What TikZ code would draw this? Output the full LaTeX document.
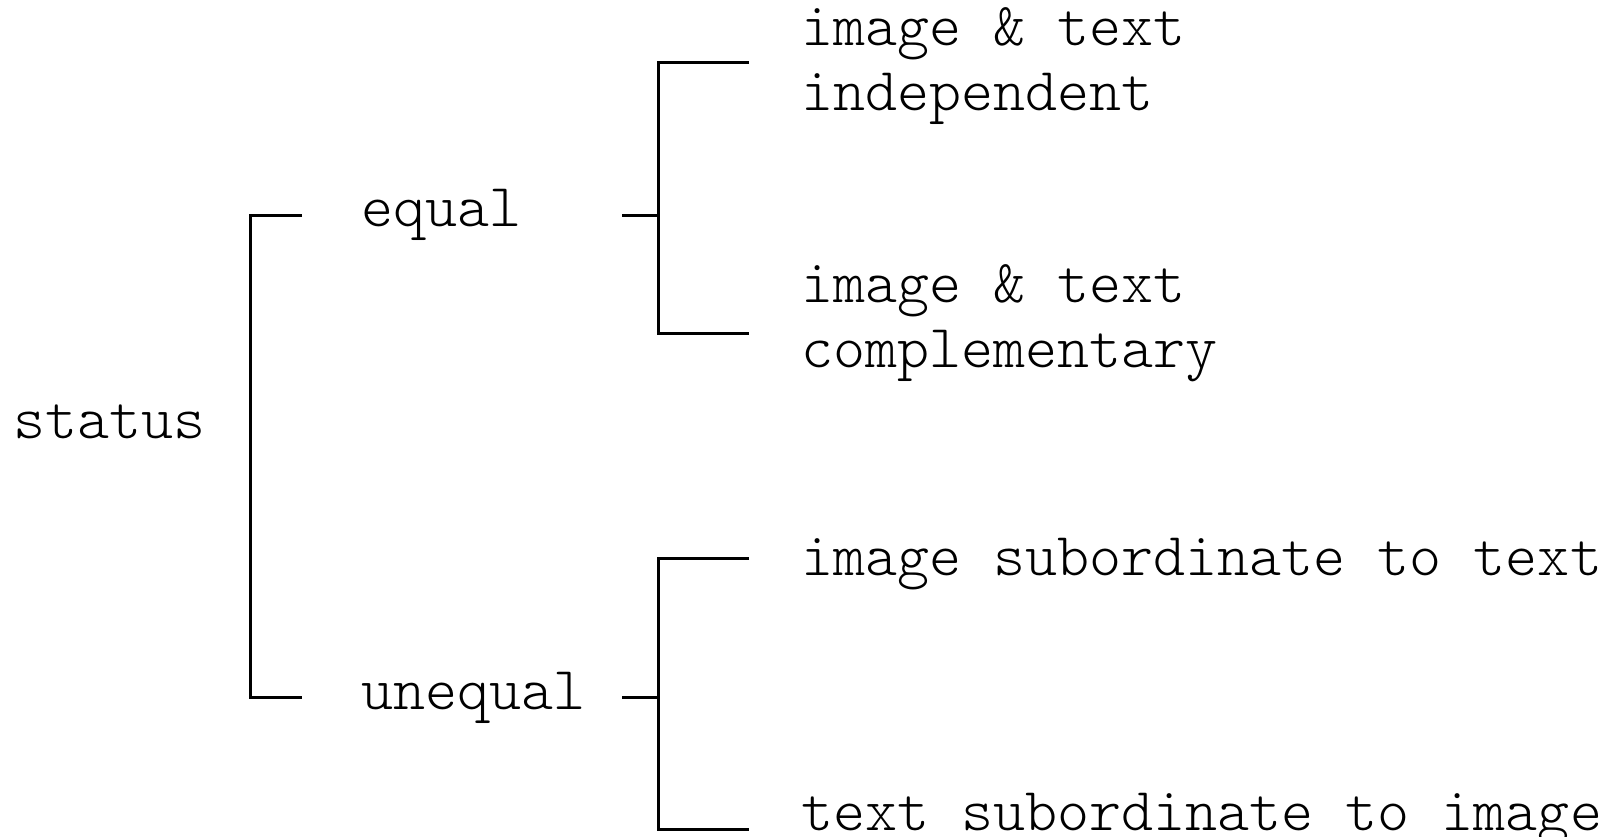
\documentclass[tikz,border=0pt]{standalone}
\usepackage{fontspec}
\setmonofont{Latin Modern Mono Light}
\tikzset{
  lbl/.style={font=\ttfamily\fontsize{30.5}{32.4}\selectfont, inner sep=0pt, align=left},
  brk/.style={line width=1.5pt}
}
\begin{document}
\begin{tikzpicture}[x=0.5pt,y=-0.5pt]
\useasboundingbox (0,0) rectangle (1612,836);
% labels
\node[lbl,anchor=base west] (status) at (13,438) {status};
\node[lbl,anchor=base west] (equal) at (361,226) {equal};
\node[lbl,anchor=base west] (unequal) at (361,709) {unequal};
\node[lbl,anchor=west] (indep) at (801,66) {image \& text\\independent};
\node[lbl,anchor=west] (compl) at (801,323) {image \& text\\complementary};
\node[lbl,anchor=west] (imgsub) at (801,564) {image subordinate to text};
\node[lbl,anchor=base west] (txtsub) at (801,830) {text subordinate to image};
% bracket points
\coordinate (t1) at (302,215);
\coordinate (t2) at (302,697);
\coordinate (s0) at (250,456);
\coordinate (j1) at (622,215);
\coordinate (s1) at (658,215);
\coordinate (j2) at (622,697);
\coordinate (s2) at (658,697);
\coordinate (c1) at (749,62);
\coordinate (c2) at (749,333);
\coordinate (c3) at (749,558);
\coordinate (c4) at (749,829);
% brackets
\draw[brk] (t1) -| (s0) |- (t2);
\draw[brk] (j1) -- (s1);
\draw[brk] (c1) -| (s1) |- (c2);
\draw[brk] (j2) -- (s2);
\draw[brk] (c3) -| (s2) |- (c4);
\end{tikzpicture}
\end{document}
